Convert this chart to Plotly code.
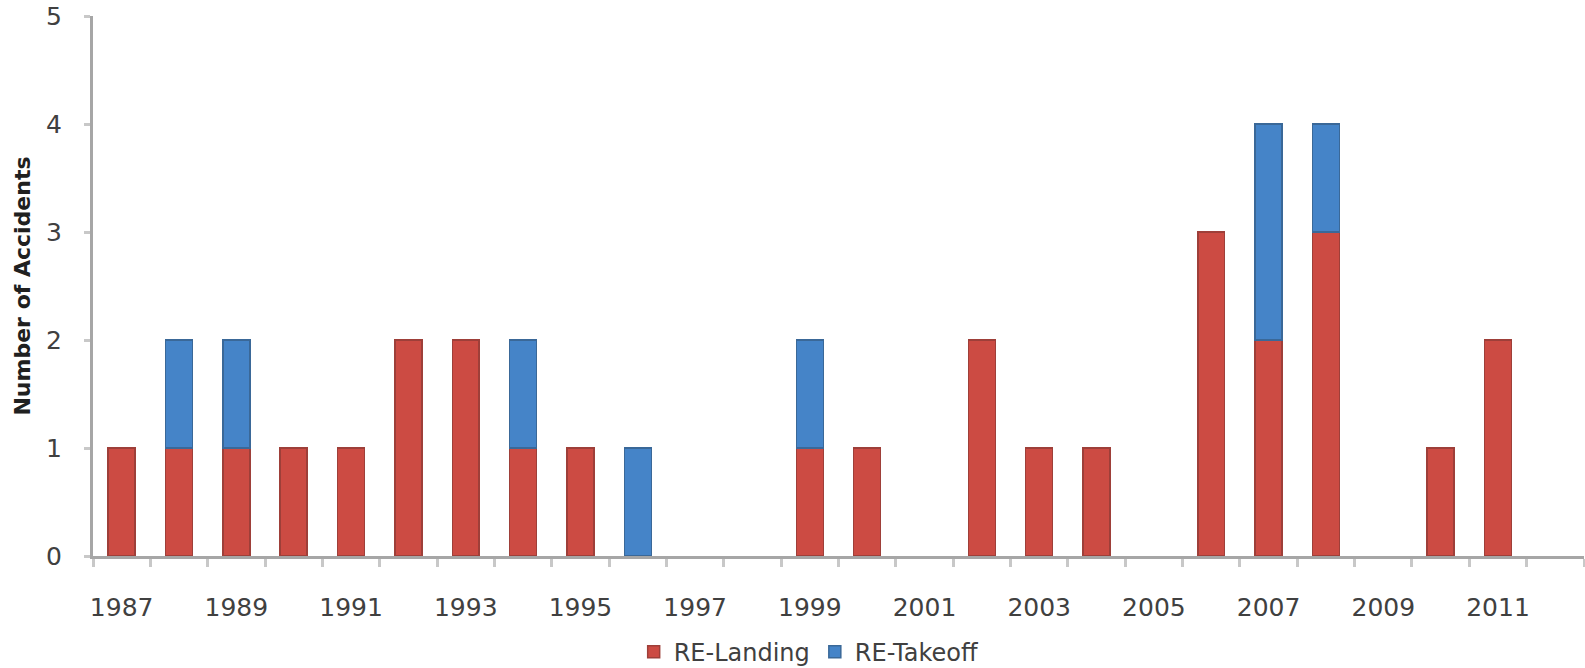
import plotly.graph_objects as go

years = list(range(1987, 2013))
landing = [1, 1, 1, 1, 1, 2, 2, 1, 1, 0, 0, 0, 1, 1, 0, 2, 1, 1, 0, 3, 2, 3, 0, 1, 2, 0]
takeoff = [0, 1, 1, 0, 0, 0, 0, 1, 0, 1, 0, 0, 1, 0, 0, 0, 0, 0, 0, 0, 2, 1, 0, 0, 0, 0]
label_years = list(range(1987, 2013, 2))
boundaries = [y - 0.5 for y in range(1987, 2014)]

FONT = "DejaVu Sans"

def nz(vals):
    return [v if v else None for v in vals]

fig = go.Figure()
fig.add_trace(go.Bar(
    x=years, y=nz(landing), name="RE-Landing", width=0.47,
    marker=dict(color="#CC4B43", line=dict(color="#9E3F39", width=1.5)),
))
fig.add_trace(go.Bar(
    x=years, y=nz(takeoff), name="RE-Takeoff", width=0.47,
    marker=dict(color="#4584C8", line=dict(color="#3A6898", width=1.5)),
))

fig.update_layout(
    barmode="stack",
    width=1585, height=668,
    margin=dict(l=93, r=1, t=16, b=112, autoexpand=False),
    plot_bgcolor="white", paper_bgcolor="white",
    font=dict(family=FONT, size=24, color="#404040"),
    showlegend=True,
    legend=dict(orientation="h", x=0.48, xanchor="center", y=-0.178, yanchor="middle",
                font=dict(size=24, color="#404040"), itemwidth=30, traceorder="normal"),
    xaxis=dict(
        range=[1986.5, 2012.5], tickmode="array", tickvals=label_years, automargin=False,
        ticktext=[str(y) for y in label_years], ticks="", ticklabelstandoff=27,
        showline=True, linecolor="#A6A6A6", linewidth=3, showgrid=False, zeroline=False,
        tickfont=dict(size=25, color="#404040"),
        minor=dict(tickmode="array", tickvals=boundaries, ticks="outside", ticklen=8,
                   tickwidth=3, tickcolor="#C8C8C8", showgrid=False),
    ),
    yaxis=dict(
        range=[0, 5], dtick=1, ticks="outside", ticklen=6, tickwidth=3, tickcolor="#C8C8C8",
        showline=True, linecolor="#A6A6A6", linewidth=3, showgrid=False, zeroline=False,
        automargin=False,
        ticklabelstandoff=17, tickfont=dict(size=25, color="#404040"),
        title=dict(text="<b>Number of Accidents</b>", font=dict(size=22, color="#202020"), standoff=10),
    ),
)

fig.write_html("out.html")
